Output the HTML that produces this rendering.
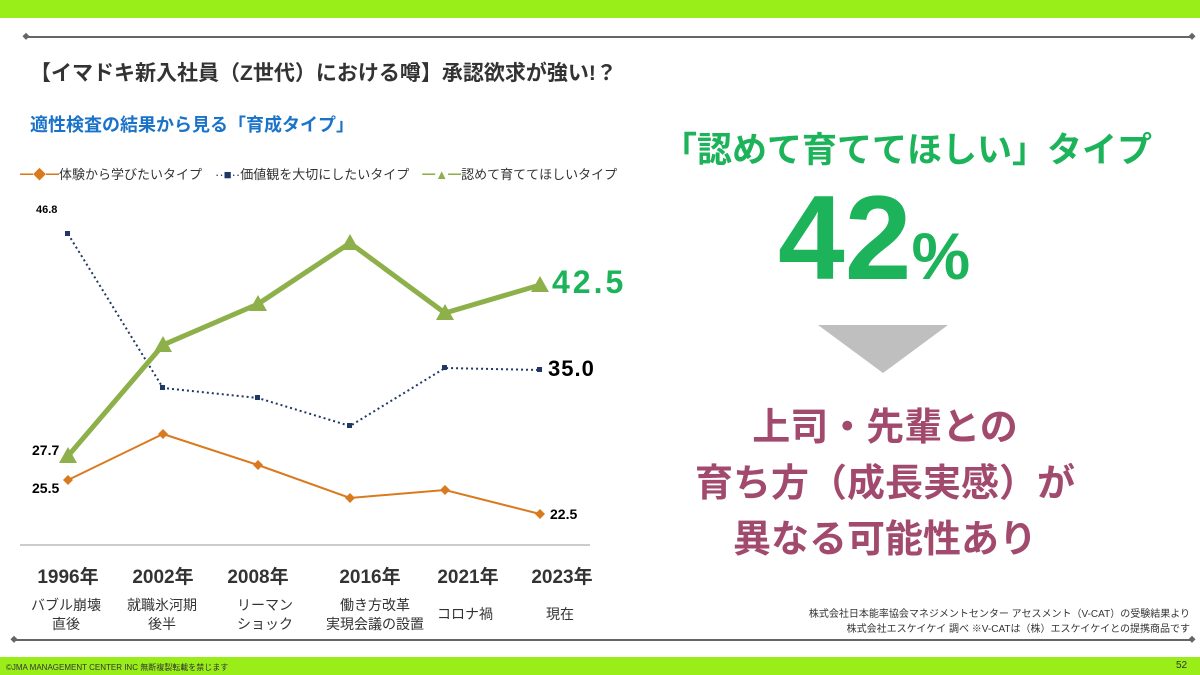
<!DOCTYPE html>
<html><head><meta charset="utf-8"><style>
body{margin:0;width:1200px;height:675px;position:relative;background:#fff;font-family:"Liberation Sans","Noto Sans CJK JP",sans-serif;overflow:hidden}
.a{position:absolute;white-space:nowrap}
.y{position:absolute;top:562px;width:100px;text-align:center;font-size:19px;color:#333;font-weight:bold}
</style></head><body>
<div class="a" style="left:0;top:0;width:1200px;height:18px;background:#99ee1a"></div>
<div class="a" style="left:0;top:657px;width:1200px;height:18px;background:#99ee1a"></div>
<svg class="a" style="left:0;top:0" width="1200" height="675">
<line x1="26" y1="37" x2="1192" y2="37" stroke="#666" stroke-width="2"/>
<rect x="23" y="34" width="5" height="5" transform="rotate(45 26 37)" fill="#666"/>
<rect x="1189" y="34" width="5" height="5" transform="rotate(45 1192 37)" fill="#666"/>
<line x1="14" y1="640" x2="1192" y2="640" stroke="#666" stroke-width="2"/>
<rect x="11" y="637" width="5" height="5" transform="rotate(45 14 640)" fill="#666"/>
<rect x="1189" y="637" width="5" height="5" transform="rotate(45 1192 640)" fill="#666"/>
<line x1="20" y1="545" x2="590" y2="545" stroke="#ccc" stroke-width="2"/>
<polyline points="68,480 163,434 258,465 350,498 445,490 540,514" fill="none" stroke="#d97a1f" stroke-width="2"/>
<g fill="#d97a1f"><path d="M68,475l5,5l-5,5l-5,-5z"/><path d="M163,429l5,5l-5,5l-5,-5z"/><path d="M258,460l5,5l-5,5l-5,-5z"/><path d="M350,493l5,5l-5,5l-5,-5z"/><path d="M445,485l5,5l-5,5l-5,-5z"/><path d="M540,509l5,5l-5,5l-5,-5z"/></g>
<polyline points="68,234 163,388 258,398 350,426 445,368 540,370" fill="none" stroke="#1f3864" stroke-width="2" stroke-dasharray="2,3"/>
<g fill="#1f3864"><rect x="65" y="231" width="5" height="5"/><rect x="160" y="385" width="5" height="5"/><rect x="255" y="395" width="5" height="5"/><rect x="347" y="423" width="5" height="5"/><rect x="442" y="365" width="5" height="5"/><rect x="537" y="367" width="5" height="5"/></g>
<polyline points="68,456 163,345 258,304 350,243 445,313 540,285" fill="none" stroke="#8db04a" stroke-width="5"/>
<g fill="#8db04a"><path d="M68,447l9,16h-18z"/><path d="M163,336l9,16h-18z"/><path d="M258,295l9,16h-18z"/><path d="M350,234l9,16h-18z"/><path d="M445,304l9,16h-18z"/><path d="M540,276l9,16h-18z"/></g>
<path d="M818,325h130l-65,48z" fill="#bfbfbf"/>
</svg>
<div class="a" style="left:30px;top:57px;font-size:21px;color:#333;font-weight:bold">【イマドキ新入社員（Z世代）における噂】承認欲求が強い!？</div>
<div class="a" style="left:30px;top:111px;font-size:18px;color:#1a73c8;font-weight:bold">適性検査の結果から見る「育成タイプ」</div>
<div class="a" style="left:20px;top:164px;font-size:13px;color:#333"><span style="color:#d97a1f">━◆━</span>体験から学びたいタイプ　<span style="color:#1f3864">··■··</span>価値観を大切にしたいタイプ　<span style="color:#8db04a">━▲━</span>認めて育ててほしいタイプ</div>
<div class="a" style="left:36px;top:204px;font-size:11px;font-weight:bold">46.8</div>
<div class="a" style="left:32px;top:442px;font-size:14px;font-weight:bold">27.7</div>
<div class="a" style="left:32px;top:480px;font-size:14px;font-weight:bold">25.5</div>
<div class="a" style="left:550px;top:506px;font-size:14px;font-weight:bold">22.5</div>
<div class="a" style="left:548px;top:356px;font-size:22px;font-weight:bold;letter-spacing:1px">35.0</div>
<div class="a" style="left:552px;top:264px;font-size:32px;font-weight:bold;color:#1db35a;letter-spacing:3px">42.5</div>
<div class="y" style="left:18px">1996年</div>
<div class="y" style="left:113px">2002年</div>
<div class="y" style="left:208px">2008年</div>
<div class="y" style="left:320px">2016年</div>
<div class="y" style="left:418px">2021年</div>
<div class="y" style="left:512px">2023年</div>
<div class="a" style="left:26px;top:596px;font-size:14px;color:#333;text-align:center;width:80px;line-height:19px">バブル崩壊<br>直後</div>
<div class="a" style="left:122px;top:596px;font-size:14px;color:#333;text-align:center;width:80px;line-height:19px">就職氷河期<br>後半</div>
<div class="a" style="left:230px;top:596px;font-size:14px;color:#333;text-align:center;width:70px;line-height:19px">リーマン<br>ショック</div>
<div class="a" style="left:320px;top:596px;font-size:14px;color:#333;text-align:center;width:110px;line-height:19px">働き方改革<br>実現会議の設置</div>
<div class="a" style="left:425px;top:604px;font-size:14px;color:#333;text-align:center;width:80px">コロナ禍</div>
<div class="a" style="left:520px;top:604px;font-size:14px;color:#333;text-align:center;width:80px">現在</div>
<div class="a" style="left:662px;top:122px;font-size:35px;font-weight:bold;color:#1db35a">「認めて育ててほしい」タイプ</div>
<div class="a" style="left:778px;top:178px;font-size:120px;font-weight:bold;color:#1db35a;line-height:120px">42<span style="font-size:66px">%</span></div>
<div class="a" style="left:660px;top:400px;width:450px;text-align:center;font-size:38px;font-weight:bold;color:#a14a6e;line-height:56px">上司・先輩との<br>育ち方（成長実感）が<br>異なる可能性あり</div>
<div class="a" style="left:760px;top:607px;width:430px;text-align:right;font-size:10px;color:#333;line-height:15px">株式会社日本能率協会マネジメントセンター アセスメント（V-CAT）の受験結果より<br>株式会社エスケイケイ 調べ ※V-CATは（株）エスケイケイとの提携商品です</div>
<div class="a" style="left:6px;top:662px;font-size:8px;color:#333">©JMA MANAGEMENT CENTER INC 無断複製転載を禁じます</div>
<div class="a" style="left:1176px;top:660px;font-size:10px;color:#333">52</div>
</body></html>
